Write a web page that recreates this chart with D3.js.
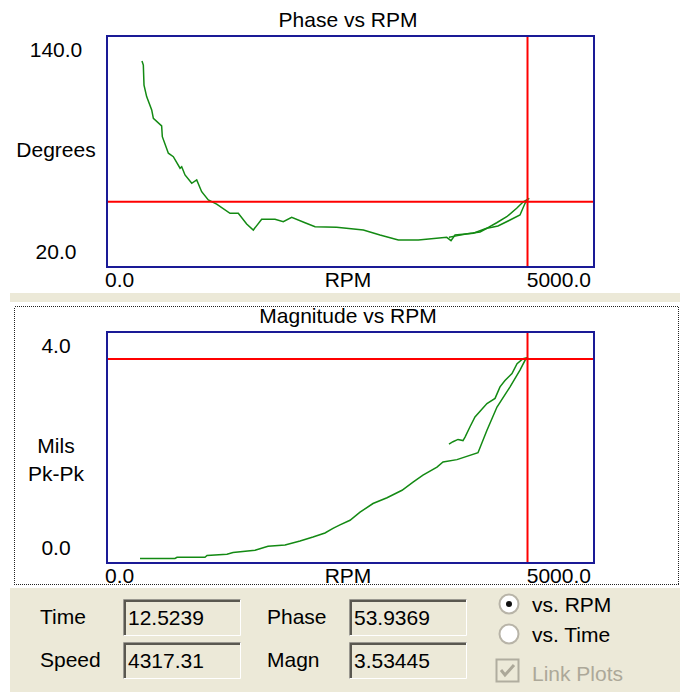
<!DOCTYPE html>
<html>
<head>
<meta charset="utf-8">
<script src="https://cdn.jsdelivr.net/npm/d3@7"></script>
<style>
  body { margin: 0; background: #fff; }
  svg { display: block; font-family: "Liberation Sans", Arial, sans-serif; }
</style>
</head>
<body>
<div id="chart"></div>
<script>
// values, [rpm, value]; run-up then a short coast-down
const phaseRunup = [
  [359,127],[373,124.9],[380,114.5],[407,108.5],[459,101.6],[476,97.2],[561,93.3],[568,87.7],
  [630,79.1],[681,77.3],[750,71.3],[767,72.1],[801,67.8],[870,63.5],[921,65.2],[972,59.1],
  [1040,54.8],[1126,52.7],[1263,47.9],[1348,47.9],[1434,42.3],[1502,39.2],[1588,44.8],
  [1725,44.8],[1810,43.5],[1896,45.8],[2033,43],[2136,40.9],[2358,40.6],[2632,39.2],
  [2803,36.6],[2991,34],[3197,34],[3488,35.4],[3532,33.7],[3573,36.6],[3761,37.5],
  [3898,40.1],[4001,43],[4104,46.1],[4206,50.5],[4274,53.9],[4336,55.7]
];
const phaseCoast = [
  [4322,55],[4292,53.1],[4240,47],[4138,44.4],[4014,41.3],[3953,40.6],[3901,40.1],
  [3830,38.2],[3700,37.3],[3600,36.3],[3511,35.5]
];
const magnRunup = [
  [339,0.08],[698,0.08],[719,0.10],[1006,0.10],[1027,0.13],[1232,0.15],[1294,0.18],
  [1520,0.22],[1653,0.29],[1828,0.31],[1982,0.38],[2115,0.45],[2238,0.52],[2320,0.6],
  [2392,0.66],[2495,0.74],[2598,0.88],[2731,1.03],[2875,1.13],[3029,1.26],[3142,1.40],
  [3244,1.52],[3388,1.66],[3450,1.75],[3593,1.79],[3809,1.91],[3901,2.30],[4004,2.70],
  [4138,3.05],[4240,3.34],[4292,3.51],[4322,3.56]
];
const magnCoast = [
  [4322,3.56],[4271,3.54],[4210,3.45],[4158,3.28],[4086,3.16],[4035,3.05],[3984,2.85],
  [3901,2.76],[3778,2.53],[3727,2.36],[3676,2.18],[3655,2.12],[3604,2.14],[3552,2.10],[3511,2.06]
];
const rpmRange = [0, 5000];
const phaseRange = [20, 140];
const magnRange = [0, 4];
const cursorTime = 12.5239, cursorSpeed = 4317.31, cursorPhase = 53.9369, cursorMagn = 3.53445;

const W = 680, H = 692;
const beige = "#ece9d8", blue = "#1a1a96", red = "#ff0000", green = "#138a13";

const svg = d3.select("#chart").append("svg")
  .attr("width", W).attr("height", H)
  .style("font-size", "21px");

svg.append("rect").attr("width", W).attr("height", H).attr("fill", "#fff");
svg.append("rect").attr("x", 10).attr("y", 293).attr("width", W - 10).attr("height", H - 293).attr("fill", beige);
svg.append("rect").attr("x", 10).attr("y", 302).attr("width", W - 10).attr("height", 286).attr("fill", "#fff");
svg.append("rect").attr("x", 14.5).attr("y", 306.5).attr("width", 664).attr("height", 278)
  .attr("fill", "none").attr("stroke", "#222").attr("stroke-dasharray", "1,1")
  .attr("shape-rendering", "crispEdges");

function plot(opts) {
  const x = d3.scaleLinear().domain(rpmRange).range([107, 594]);
  const y = d3.scaleLinear().domain(opts.yDomain).range([opts.bottom, opts.top]);
  const g = svg.append("g");
  const clipId = "clip" + opts.top;
  g.append("clipPath").attr("id", clipId).append("rect")
    .attr("x", 107).attr("y", opts.top).attr("width", 487).attr("height", opts.bottom - opts.top);

  const line = d3.line().x(d => x(d[0])).y(d => y(d[1]));
  const lines = g.append("g").attr("clip-path", `url(#${clipId})`);
  opts.series.forEach(s => {
    lines.append("path").datum(s).attr("d", line)
      .attr("fill", "none").attr("stroke", green).attr("stroke-width", 1.5);
  });
  // cursor
  lines.append("line").attr("x1", 107).attr("x2", 594)
    .attr("y1", y(opts.cursor)).attr("y2", y(opts.cursor))
    .attr("stroke", red).attr("stroke-width", 2);
  lines.append("line").attr("x1", x(cursorSpeed)).attr("x2", x(cursorSpeed))
    .attr("y1", opts.top).attr("y2", opts.bottom)
    .attr("stroke", red).attr("stroke-width", 2);

  g.append("rect").attr("x", 107).attr("y", opts.top).attr("width", 487).attr("height", opts.bottom - opts.top)
    .attr("fill", "none").attr("stroke", blue).attr("stroke-width", 2);

  g.append("text").attr("x", 348).attr("y", opts.top - 9).attr("text-anchor", "middle").text(opts.title);
  g.append("text").attr("x", 56).attr("y", y(opts.yDomain[1]) + 21).attr("text-anchor", "middle")
    .text(opts.yDomain[1].toFixed(1));
  g.append("text").attr("x", 56).attr("y", y(opts.yDomain[0]) - 8).attr("text-anchor", "middle")
    .text(opts.yDomain[0].toFixed(1));
  opts.unit.forEach((u, i) => {
    g.append("text").attr("x", 56).attr("y", opts.unitY + i * 28).attr("text-anchor", "middle").text(u);
  });
  g.append("text").attr("x", x(rpmRange[0]) - 2).attr("y", opts.bottom + 20).text(rpmRange[0].toFixed(1));
  g.append("text").attr("x", x(rpmRange[1]) - 3).attr("y", opts.bottom + 20).attr("text-anchor", "end")
    .text(rpmRange[1].toFixed(1));
  g.append("text").attr("x", 348).attr("y", opts.bottom + 20).attr("text-anchor", "middle").text("RPM");
}

plot({ title: "Phase vs RPM", top: 36, bottom: 267, yDomain: phaseRange,
       series: [phaseRunup, phaseCoast], cursor: cursorPhase, unit: ["Degrees"], unitY: 157 });
plot({ title: "Magnitude vs RPM", top: 332, bottom: 563, yDomain: magnRange,
       series: [magnRunup, magnCoast], cursor: cursorMagn, unit: ["Mils", "Pk-Pk"], unitY: 453 });

// readout panel
function field(label, value, lx, bx, by) {
  svg.append("text").attr("x", lx).attr("y", by + 25).text(label);
  const b = svg.append("g").attr("transform", `translate(${bx},${by})`);
  b.append("rect").attr("width", 118).attr("height", 37).attr("fill", beige);
  b.append("path").attr("d", "M0.5,37V0.5H118").attr("fill", "none").attr("stroke", "#9a9890").attr("stroke-width", 1);
  b.append("path").attr("d", "M2,36V2H117").attr("fill", "none").attr("stroke", "#5a5850").attr("stroke-width", 2);
  b.append("path").attr("d", "M0.5,36.5H117.5V0.5").attr("fill", "none").attr("stroke", "#fff").attr("stroke-width", 1);
  svg.append("text").attr("x", bx + 5).attr("y", by + 26).text(value);
}
field("Time", cursorTime.toFixed(4), 40, 123, 599);
field("Speed", cursorSpeed.toFixed(2), 40, 123, 642);
field("Phase", cursorPhase.toFixed(4), 267, 349, 599);
field("Magn", cursorMagn.toFixed(5), 267, 349, 642);

const radios = [["vs. RPM", 604, true], ["vs. Time", 634, false]];
radios.forEach(([t, cy, on]) => {
  svg.append("circle").attr("cx", 509).attr("cy", cy).attr("r", 9.5)
    .attr("fill", "#fff").attr("stroke", "#b8b4a8").attr("stroke-width", 2);
  if (on) svg.append("circle").attr("cx", 509).attr("cy", cy).attr("r", 3).attr("fill", "#111");
  svg.append("text").attr("x", 532).attr("y", cy + 8).text(t);
});
svg.append("rect").attr("x", 496.5).attr("y", 659.5).attr("width", 22).attr("height", 22)
  .attr("fill", beige).attr("stroke", "#b0ad9f").attr("stroke-width", 2);
svg.append("path").attr("d", "M501,670 l4,5 l9,-10").attr("fill", "none")
  .attr("stroke", "#aca899").attr("stroke-width", 3);
svg.append("text").attr("x", 532).attr("y", 681).attr("fill", "#aca899").text("Link Plots");
</script>
</body>
</html>
